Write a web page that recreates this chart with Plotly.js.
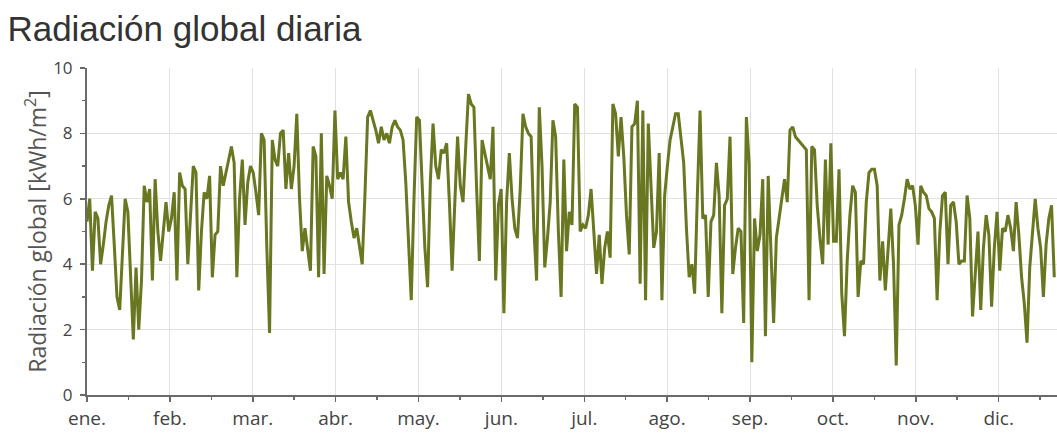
<!DOCTYPE html>
<html>
<head>
<meta charset="utf-8">
<script src="https://cdn.plot.ly/plotly-3.0.1.min.js"></script>
<style>
  html, body { margin: 0; padding: 0; background: #ffffff; }
  #chart { width: 1057px; height: 435px; }
</style>
</head>
<body>
<div id="chart"></div>
<script>
// Month labels shown on the time axis
const meses = ['ene.', 'feb.', 'mar.', 'abr.', 'may.', 'jun.', 'jul.', 'ago.', 'sep.', 'oct.', 'nov.', 'dic.'];

// Daily global radiation, kWh/m² (one value per day from 1 January)
const radiacion = [
  5.3, 6.0, 3.8, 5.6, 5.4, 4.0, 4.6, 5.3, 5.8, 6.1,
  4.6, 3.0, 2.6, 4.5, 6.0, 5.6, 3.5, 1.7, 3.9, 2.0,
  3.5, 6.4, 5.9, 6.3, 3.5, 6.6, 5.0, 4.1, 5.0, 5.9,
  5.0, 5.4, 6.2, 3.5, 6.8, 6.4, 6.3, 4.0, 5.5, 7.0,
  6.8, 3.2, 5.0, 6.2, 6.0, 6.7, 3.6, 4.9, 5.0, 7.0,
  6.4, 6.8, 7.1, 7.6, 7.1, 3.6, 6.0, 7.2, 5.2, 6.5,
  7.0, 6.8, 6.2, 5.5, 8.0, 7.8, 4.5, 1.9, 7.8, 7.2,
  7.0, 8.0, 8.1, 6.3, 7.4, 6.3, 7.0, 8.6, 6.0, 4.4,
  5.1, 4.5, 3.8, 7.6, 7.3, 3.6, 8.0, 3.7, 6.7, 6.4,
  6.0, 8.7, 6.6, 6.8, 6.6, 7.9, 5.9, 5.3, 4.8, 5.1,
  4.5, 4.0, 6.1, 8.5, 8.7, 8.4, 8.1, 7.7, 8.2, 7.8,
  8.0, 7.7, 8.2, 8.4, 8.2, 8.1, 7.8, 6.5, 4.5, 2.9,
  6.0, 8.5, 8.4, 6.2, 4.5, 3.3, 6.5, 8.3, 7.0, 6.6,
  7.5, 7.4, 7.7, 5.9, 3.8, 5.9, 7.9, 6.4, 5.9, 7.6,
  9.2, 8.9, 8.8, 6.3, 4.1, 7.8, 7.4, 7.0, 6.6, 8.2,
  3.5, 5.8, 6.3, 2.5, 5.9, 7.4, 6.0, 5.1, 4.8, 6.3,
  8.6, 8.2, 8.0, 7.9, 5.1, 3.5, 8.8, 7.0, 3.9, 4.8,
  5.9, 8.4, 7.9, 5.0, 3.0, 7.2, 4.4, 5.6, 5.2, 8.9,
  8.8, 5.0, 5.2, 5.1, 5.5, 6.3, 5.1, 3.7, 4.9, 3.4,
  4.5, 5.0, 4.2, 8.9, 8.6, 7.3, 8.5, 7.3, 5.5, 4.3,
  8.2, 8.3, 9.0, 3.4, 8.7, 2.9, 8.3, 6.1, 4.5, 5.0,
  7.4, 2.9, 6.1, 7.0, 7.8, 8.2, 8.6, 8.6, 7.8, 7.1,
  5.1, 3.6, 4.0, 3.1, 6.1, 8.7, 5.4, 5.5, 3.0, 5.3,
  5.5, 7.1, 6.1, 2.5, 5.8, 6.0, 7.9, 3.7, 4.5, 5.1,
  5.0, 2.2, 8.5, 7.1, 1.0, 5.4, 4.4, 4.9, 6.6, 1.8,
  6.7, 4.5, 2.2, 4.8, 5.4, 5.9, 6.6, 5.9, 8.1, 8.2,
  7.9, 7.8, 7.7, 7.6, 7.5, 2.9, 7.6, 7.5, 5.8, 4.8,
  4.0, 7.2, 4.6, 7.7, 4.7, 4.7, 6.9, 3.1, 1.8, 4.1,
  5.5, 6.4, 6.2, 3.0, 4.1, 4.0, 5.9, 6.8, 6.9, 6.9,
  6.4, 3.5, 4.7, 3.2, 4.5, 5.7, 4.0, 0.9, 5.2, 5.5,
  6.0, 6.6, 6.3, 6.4, 5.8, 4.6, 6.4, 6.2, 6.1, 5.7,
  5.6, 5.4, 2.9, 5.0, 6.1, 6.2, 4.0, 5.8, 5.9, 5.3,
  4.0, 4.1, 4.1, 6.1, 5.4, 2.4, 3.7, 5.0, 2.6, 4.5,
  5.5, 4.9, 2.7, 4.5, 5.6, 3.8, 5.1, 5.0, 5.5, 5.1,
  4.4, 5.9, 4.9, 3.6, 2.8, 1.6, 3.9, 5.0, 6.0, 5.1,
  4.5, 3.0, 4.6, 5.4, 5.8, 3.6
];

const dias = radiacion.map((_, i) => i);
const diasPorMes = 365 / 12;
const inicioMes = meses.map((_, i) => i * diasPorMes);

const ejeColor = '#6a6a6a';
const rejilla = '#e2e2e2';
const textoColor = '#444444';

const trace = {
  type: 'scatter',
  mode: 'lines',
  x: dias,
  y: radiacion,
  line: { color: '#687720', width: 3 },
  hoverinfo: 'x+y'
};

const layout = {
  width: 1057,
  height: 435,
  margin: { l: 87, r: 0, t: 68, b: 40, pad: 0 },
  paper_bgcolor: '#ffffff',
  plot_bgcolor: '#ffffff',
  showlegend: false,
  title: {
    text: 'Radiación global diaria',
    font: { family: 'Liberation Sans, Arial, sans-serif', size: 35, color: '#333333' },
    xref: 'container', x: 0.007, xanchor: 'left',
    yref: 'container', y: 0.935, yanchor: 'middle'
  },
  xaxis: {
    range: [0, 356],
    tickmode: 'array',
    tickvals: inicioMes,
    ticktext: meses,
    showgrid: true,
    gridcolor: rejilla,
    gridwidth: 1,
    zeroline: false,
    showline: true,
    linecolor: ejeColor,
    linewidth: 2,
    ticks: 'outside',
    ticklen: 5,
    tickwidth: 1.5,
    tickcolor: ejeColor,
    tickfont: { family: 'Open Sans, sans-serif', size: 19, color: textoColor },
    minor: { tick0: 0, dtick: diasPorMes / 2, ticks: 'outside', ticklen: 3, tickwidth: 1.5, tickcolor: ejeColor, showgrid: false }
  },
  yaxis: {
    range: [0, 10],
    tick0: 0,
    dtick: 2,
    showgrid: true,
    gridcolor: rejilla,
    gridwidth: 1,
    zeroline: false,
    showline: true,
    linecolor: ejeColor,
    linewidth: 2,
    ticks: 'outside',
    ticklen: 5,
    tickwidth: 1.5,
    tickcolor: ejeColor,
    ticklabelstandoff: 4,
    tickfont: { family: 'Open Sans, sans-serif', size: 17, color: textoColor },
    minor: { tick0: 0, dtick: 1, ticks: 'outside', ticklen: 3, tickwidth: 1.5, tickcolor: ejeColor, showgrid: false },
    title: {
      text: 'Radiación global [kWh/m<sup>2</sup>]',
      font: { family: 'Open Sans, sans-serif', size: 23, color: '#555555' },
      standoff: 0
    }
  }
};

Plotly.newPlot('chart', [trace], layout, { displayModeBar: false, staticPlot: true });
</script>
</body>
</html>
